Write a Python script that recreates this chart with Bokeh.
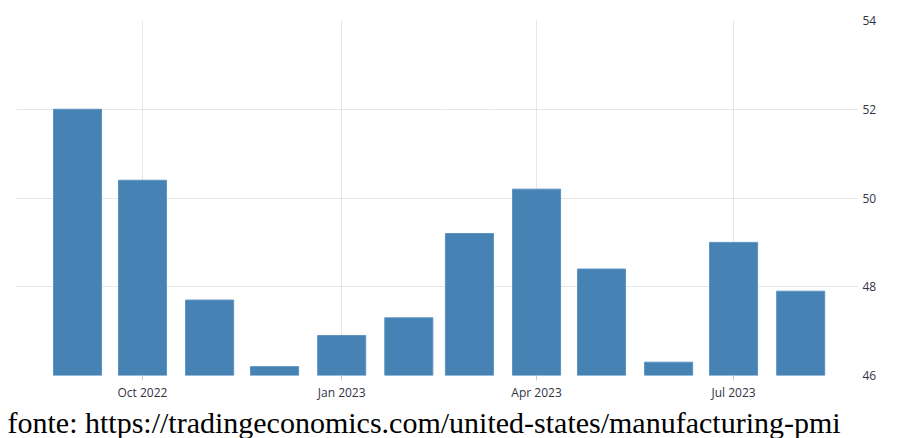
import pandas as pd
from bokeh.plotting import figure
from bokeh.models import Range1d, FixedTicker, DatetimeTickFormatter, Title, ColumnDataSource
from bokeh.embed import file_html
from bokeh.resources import INLINE

# ---- data ----
months = ["2022-09-01", "2022-10-01", "2022-11-01", "2022-12-01",
          "2023-01-01", "2023-02-01", "2023-03-01", "2023-04-01",
          "2023-05-01", "2023-06-01", "2023-07-01", "2023-08-01"]
pmi = [52.0, 50.4, 47.7, 46.2, 46.9, 47.3, 49.2, 50.2, 48.4, 46.3, 49.0, 47.9]
tick_dates = ["2022-10-01", "2023-01-01", "2023-04-01", "2023-07-01"]
y_ticks = [46, 48, 50, 52, 54]
caption = "fonte: https://tradingeconomics.com/united-states/manufacturing-pmi"

dates = pd.to_datetime(months)
x_start = pd.Timestamp("2022-10-01") - pd.Timedelta(days=58.2)
x_end = pd.Timestamp("2023-07-01") + pd.Timedelta(days=57.7)
bar_width_ms = 22.2 * 86400000

p = figure(width=898, height=438, x_axis_type="datetime", y_axis_location="right",
           output_backend="svg", toolbar_location=None,
           x_range=Range1d(x_start, x_end), y_range=Range1d(46, 54),
           min_border_left=16, min_border_right=40, min_border_top=20, min_border_bottom=59)
p.outline_line_color = None
p.background_fill_color = "white"
p.border_fill_color = "white"

src = ColumnDataSource(dict(x=dates, top=pmi))
p.vbar(x="x", top="top", bottom=46, width=bar_width_ms, source=src,
       fill_color="#4682b4", line_color="#5c93c2", line_width=1)

tick_ms = [pd.Timestamp(d).value / 1e6 for d in tick_dates]
p.xaxis.ticker = FixedTicker(ticks=tick_ms)
p.xaxis.formatter = DatetimeTickFormatter(years="%b %Y", months="%b %Y", days="%b %Y",
                                          hours="%b %Y", minutes="%b %Y")
p.xaxis.axis_line_color = None
p.xaxis.major_tick_line_color = "#cccccc"
p.xaxis.major_tick_out = 5
p.xaxis.major_tick_in = 0
p.xaxis.minor_tick_line_color = None
p.xaxis.major_label_standoff = 3

p.yaxis.ticker = FixedTicker(ticks=y_ticks)
p.yaxis.axis_line_color = None
p.yaxis.major_tick_line_color = None
p.yaxis.major_tick_out = 0
p.yaxis.major_tick_in = 0
p.yaxis.minor_tick_line_color = None
p.yaxis.major_label_standoff = 4

for ax in (p.xaxis, p.yaxis):
    ax.major_label_text_font = "Open Sans"
    ax.major_label_text_font_size = "12px"
    ax.major_label_text_color = "#333344"

p.xgrid.grid_line_color = "#cfcfcf"
p.xgrid.grid_line_dash = "1 1"
p.ygrid.grid_line_color = "#cfcfcf"
p.ygrid.grid_line_dash = "1 1"

p.add_layout(Title(text=caption, align="left", offset=-9, standoff=0,
                   vertical_align="bottom",
                   text_font="Liberation Serif", text_font_size="30px",
                   text_font_style="normal", text_color="black"), "below")

open("out.html", "w").write(file_html(p, INLINE))
